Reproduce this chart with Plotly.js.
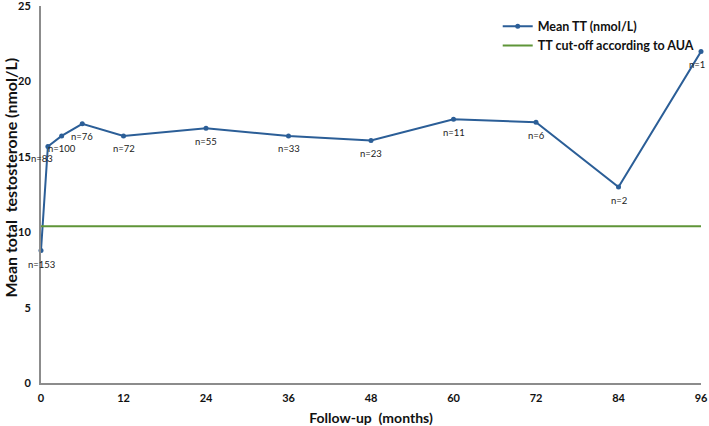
<!DOCTYPE html>
<html>
<head>
<meta charset="utf-8">
<script src="https://cdn.plot.ly/plotly-3.0.1.min.js"></script>
<style>html,body{margin:0;padding:0;background:#fff;}#chart{width:709px;height:426px;}</style>
</head>
<body>
<div id="chart"></div>
<script>
const months = [0, 1, 3, 6, 12, 24, 36, 48, 60, 72, 84, 96];
const meanTT = [8.8, 15.7, 16.4, 17.2, 16.4, 16.9, 16.4, 16.1, 17.5, 17.3, 13.0, 22.0];
const nLabels = ["n=153", "n=83", "n=100", "n=76", "n=72", "n=55", "n=33", "n=23", "n=11", "n=6", "n=2", "n=1"];
const cutoffX = [0, 96];
const cutoffY = [10.4, 10.4];
const xTicks = [0, 12, 24, 36, 48, 60, 72, 84, 96];
const yTicks = [0, 5, 10, 15, 20, 25];
const xTitle = 'Follow-up  (months)';
const yTitle = 'Mean total  testosterone (nmol/L)';

const labelShiftX = [0, -6, 0, 0, 0, 0, 0, 0, 0, 0, 0, -4];
const labelShiftY = [-14, -12, -13, -13, -13, -13, -13, -13, -13, -13, -13, -13];

const fontFam = 'Lato, "Open Sans", "Liberation Sans", sans-serif';

const traces = [
  {
    x: months, y: meanTT, name: 'Mean TT (nmol/L)', type: 'scatter', mode: 'lines+markers',
    line: {color: '#2B5E97', width: 2}, marker: {color: '#2B5E97', size: 5}, cliponaxis: false
  },
  {
    x: cutoffX, y: cutoffY, name: 'TT cut-off according to AUA', type: 'scatter', mode: 'lines',
    line: {color: '#5F9538', width: 2}
  }
];

const annotations = months.map((m, i) => ({
  x: m, y: meanTT[i], text: nLabels[i], showarrow: false,
  xshift: labelShiftX[i], yshift: labelShiftY[i], xanchor: 'center',
  font: {family: fontFam, size: 9.5, color: '#222'}
}));
annotations.push({
  xref: 'paper', yref: 'paper', x: 0, y: 0.5, xshift: -31, yshift: 17,
  text: '<b>' + yTitle + '</b>', textangle: -90, showarrow: false,
  xanchor: 'center', yanchor: 'middle',
  font: {family: fontFam, size: 16, color: '#111'}
});

const layout = {
  width: 709, height: 426,
  margin: {l: 41, r: 8, t: 6, b: 43},
  paper_bgcolor: '#fff', plot_bgcolor: '#fff',
  showlegend: true,
  legend: {x: 0.692, y: 0.985, xanchor: 'left', yanchor: 'top', bgcolor: 'rgba(0,0,0,0)',
    font: {family: fontFam, size: 12.5, color: '#111', weight: 'bold'}, tracegroupgap: 0},
  xaxis: {
    range: [0, 96], tickvals: xTicks, ticktext: xTicks.map(String),
    showgrid: false, zeroline: false, showline: true, linecolor: '#8c8c8c', linewidth: 2,
    ticks: 'outside', ticklen: 4, tickcolor: 'rgba(0,0,0,0)',
    tickfont: {family: fontFam, size: 11, color: '#111', weight: 'bold'},
    title: {text: '<b>' + xTitle + '</b>', font: {family: fontFam, size: 14, color: '#111'}, standoff: 10},
    automargin: false
  },
  yaxis: {
    range: [0, 25.02], tickvals: yTicks, ticktext: yTicks.map(String), ticklabeloverflow: 'allow',
    showgrid: false, zeroline: false, showline: true, linecolor: '#8c8c8c', linewidth: 2,
    ticks: 'outside', ticklen: 6, tickcolor: 'rgba(0,0,0,0)',
    tickfont: {family: fontFam, size: 11, color: '#111', weight: 'bold'},
    automargin: false
  },
  annotations: annotations
};

Plotly.newPlot('chart', traces, layout, {displayModeBar: false, staticPlot: true});
</script>
</body>
</html>
